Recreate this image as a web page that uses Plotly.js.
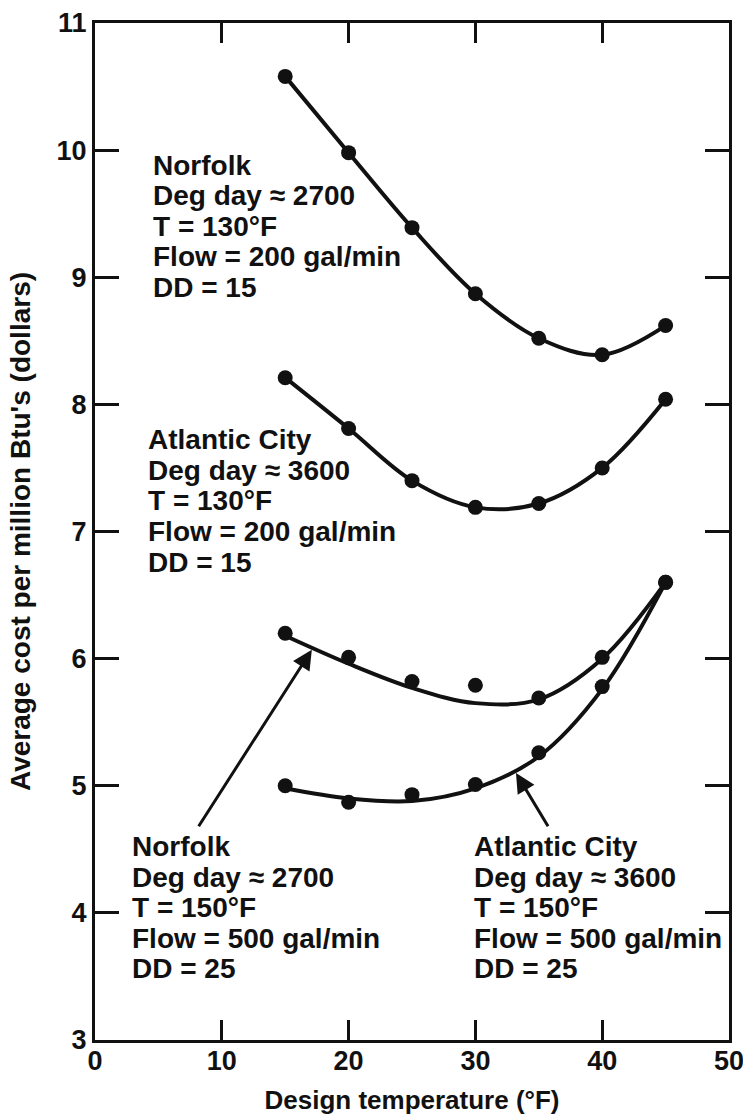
<!DOCTYPE html>
<html>
<head>
<meta charset="utf-8">
<script src="https://cdn.plot.ly/plotly-3.0.1.min.js"></script>
<style>
  html, body { margin: 0; padding: 0; background: #ffffff; }
  #chart { width: 743px; height: 1119px; }
</style>
</head>
<body>
<div id="chart"></div>
<script>
// Design temperatures (°F) at which the cost was evaluated
const temps = [15, 20, 25, 30, 35, 40, 45];

// Average cost per million Btu's (dollars), measured points
const norfolk130  = [10.58, 9.98, 9.39, 8.87, 8.52, 8.39, 8.62];
const atlantic130 = [8.21, 7.81, 7.40, 7.19, 7.22, 7.50, 8.04];
const norfolk150  = [6.20, 6.01, 5.82, 5.79, 5.69, 6.01, 6.60];
const atlantic150 = [5.00, 4.87, 4.93, 5.01, 5.26, 5.78, 6.60];

// Smoothed trend lines drawn through the 150°F series
const norfolk150Fit  = [6.18, 5.96, 5.77, 5.65, 5.68, 6.00, 6.60];
const atlantic150Fit = [4.98, 4.90, 4.88, 4.98, 5.23, 5.76, 6.60];

// Axis ticks
const xTicks = [0, 10, 20, 30, 40, 50];
const yTicks = [3, 4, 5, 6, 7, 8, 9, 10, 11];

// Text blocks describing each case
const norfolk130Text  = ["Norfolk", "Deg day \u2248 2700", "T = 130\u00b0F", "Flow = 200 gal/min", "DD = 15"];
const atlantic130Text = ["Atlantic City", "Deg day \u2248 3600", "T = 130\u00b0F", "Flow = 200 gal/min", "DD = 15"];
const norfolk150Text  = ["Norfolk", "Deg day \u2248 2700", "T = 150\u00b0F", "Flow = 500 gal/min", "DD = 25"];
const atlantic150Text = ["Atlantic City", "Deg day \u2248 3600", "T = 150\u00b0F", "Flow = 500 gal/min", "DD = 25"];

const INK = '#111111';
const FONT = 'Liberation Sans, Arial, sans-serif';
const lineStyle = { color: INK, width: 4, shape: 'spline', smoothing: 1 };
const markerStyle = { color: INK, size: 15 };

const traces = [
  { x: temps, y: norfolk130, mode: 'lines+markers', line: lineStyle, marker: markerStyle, name: 'Norfolk 130°F' },
  { x: temps, y: atlantic130, mode: 'lines+markers', line: lineStyle, marker: markerStyle, name: 'Atlantic City 130°F' },
  { x: temps, y: norfolk150Fit, mode: 'lines', line: lineStyle, name: 'Norfolk 150°F trend' },
  { x: temps, y: norfolk150, mode: 'markers', marker: markerStyle, name: 'Norfolk 150°F' },
  { x: temps, y: atlantic150Fit, mode: 'lines', line: lineStyle, name: 'Atlantic City 150°F trend' },
  { x: temps, y: atlantic150, mode: 'markers', marker: markerStyle, name: 'Atlantic City 150°F' }
];

const textFont = { family: FONT, size: 28, color: INK, weight: 'bold' };
const LINE_STEP = 0.24; // vertical spacing between text lines, in axis units

function textBlock(lines, x, yFirst) {
  return lines.map((t, i) => ({
    text: t, x: x, y: yFirst - i * LINE_STEP, xref: 'x', yref: 'y',
    xanchor: 'left', yanchor: 'middle', showarrow: false,
    font: textFont, borderpad: 0
  }));
}

const annotations = []
  .concat(textBlock(norfolk130Text, 4.5, 9.88))
  .concat(textBlock(atlantic130Text, 4.1, 7.72))
  .concat(textBlock(norfolk150Text, 2.85, 4.52))
  .concat(textBlock(atlantic150Text, 29.8, 4.52));

// Pointers from the lower text blocks to their curves
const arrowStyle = {
  text: '', showarrow: true, xref: 'x', yref: 'y', axref: 'x', ayref: 'y',
  arrowhead: 2, arrowsize: 1.3, arrowwidth: 3, arrowcolor: INK, standoff: 0
};
annotations.push(Object.assign({}, arrowStyle, { x: 17.1, y: 6.07, ax: 8.1, ay: 4.67 }));
annotations.push(Object.assign({}, arrowStyle, { x: 33.2, y: 5.10, ax: 35.8, ay: 4.67 }));

const tickFont = { family: FONT, size: 27, color: INK, weight: 'bold' };

const axisCommon = {
  showgrid: false, zeroline: false, showline: true, linewidth: 3, linecolor: INK,
  mirror: 'ticks', ticks: 'inside', tickwidth: 3, tickcolor: INK, tickfont: tickFont,
  ticklabeloverflow: 'allow'
};

const layout = {
  width: 743, height: 1119,
  margin: { l: 95, r: 14, t: 23, b: 79 },
  paper_bgcolor: '#ffffff', plot_bgcolor: '#ffffff',
  showlegend: false,
  xaxis: Object.assign({}, axisCommon, {
    range: [0, 50], tickvals: xTicks, ticklen: 20, ticklabelstandoff: -5,
    title: { text: 'Design temperature (\u00b0F)', font: { family: FONT, size: 26, color: INK, weight: 'bold' }, standoff: 16 }
  }),
  yaxis: Object.assign({}, axisCommon, {
    range: [3, 11], tickvals: yTicks, ticklen: 24,
    title: { text: "Average cost per million Btu's (dollars)", font: { family: FONT, size: 28, color: INK, weight: 'bold' }, standoff: 18 }
  }),
  annotations: annotations
};

Plotly.newPlot('chart', traces, layout, { staticPlot: true, displayModeBar: false });
</script>
</body>
</html>
